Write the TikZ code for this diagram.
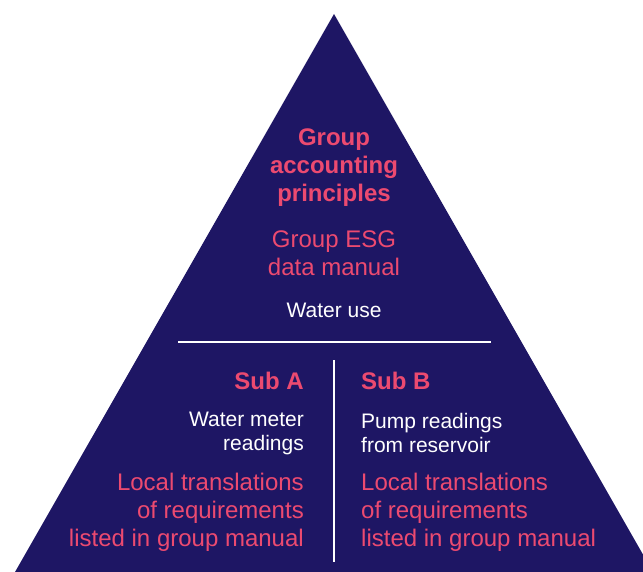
\documentclass[tikz,border=0pt]{standalone}
\usepackage{fontspec}
\setmainfont{Liberation Sans}
\definecolor{navy}{HTML}{1E1664}
\definecolor{rose}{HTML}{EC4A70}
\tikzset{
	txt/.style={inner sep=0pt,font=\fontsize{24}{28}\selectfont},
	head/.style={txt,text=rose,font=\fontsize{24}{28}\selectfont\bfseries},
	note/.style={inner sep=0pt,text=white,font=\fontsize{21}{24}\selectfont}
}
\begin{document}
\begin{tikzpicture}[x=1pt,y=-1pt]
	\useasboundingbox (0,0) rectangle (643,572);
	\clip (0,0) rectangle (643,572);
	\fill[navy] (334,14) -- (15,572) -- (653,572) -- cycle;
	\draw[white,line width=1.2pt] (178,342) -- (491,342);
	\draw[white,line width=1.2pt] (334,360) -- (334,562);
	% top
	\node[head,align=center] (gap) at (334,168) {Group\\accounting\\principles};
	\node[txt,text=rose,align=center] (esg) at (334,253) {Group ESG\\data manual};
	\node[note] (use) at (334,310) {Water use};
	% left
	\node[head,anchor=east] (suba) at (304,381) {Sub A};
	\node[note,align=right,anchor=east] (meter) at (304,433) {Water meter\\readings};
	\node[txt,text=rose,align=right,anchor=east] (loca) at (304,512) {Local translations\\of requirements\\listed in group manual};
	% right
	\node[head,anchor=west] (subb) at (361,381) {Sub B};
	\node[note,align=left,anchor=west] (pump) at (361,433) {Pump readings\\from reservoir};
	\node[txt,text=rose,align=left,anchor=west] (locb) at (361,512) {Local translations\\of requirements\\listed in group manual};
\end{tikzpicture}
\end{document}
